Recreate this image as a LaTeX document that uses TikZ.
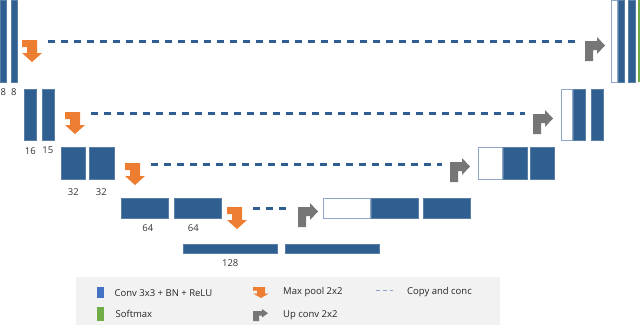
\documentclass[tikz,border=0pt]{standalone}
\usepackage{fontspec}
\setmainfont{Open Sans}
\usepackage{xcolor}
\usepackage{tikz}
\usetikzlibrary{positioning, calc}

\definecolor{convblue}{RGB}{47,95,145}
\definecolor{legblue}{RGB}{68,114,196}
\definecolor{copyedge}{RGB}{140,165,200}
\definecolor{poolorange}{RGB}{237,125,49}
\definecolor{upgray}{RGB}{118,118,118}
\definecolor{softgreen}{RGB}{112,173,71}
\definecolor{legendgray}{RGB}{242,242,242}

\begin{document}
\begin{tikzpicture}[x=1pt, y=-1pt,
	bar/.style={rectangle, fill=convblue, draw=convblue!80!white, line width=0.5pt, inner sep=0pt},
	copybar/.style={rectangle, fill=white, draw=copyedge, line width=0.8pt, inner sep=0pt},
	lbl/.style={font=\fontsize{9.5}{11}\selectfont, text=black!80, inner sep=1pt},
	legtext/.style={font=\fontsize{9.5}{11}\selectfont, text=black!85, inner sep=0pt, anchor=west},
	copyline/.style={draw=convblue, line width=2.3pt, dash pattern=on 7pt off 6pt},
	pics/poolarrow/.style={code={
		\fill[poolorange] (0,0) -- (15,0) -- (15,13) -- (20,13) -- (10,22) -- (0,13) -- (5,13) -- (5,7) -- (0,7) -- cycle;
		\coordinate (-out) at (26,1.5);
	}},
	pics/uparrow/.style={code={
		\fill[upgray] (0,4) -- (12,4) -- (12,0) -- (20,8.5) -- (12,17) -- (12,13) -- (8,13) -- (8,24) -- (0,24) -- cycle;
		\coordinate (-in) at (-8,4.5);
	}}]
	\useasboundingbox (0,0) rectangle (640,325);

	% encoder
	\node[bar, minimum width=6pt, minimum height=82pt, anchor=north west] (enc0a) at (0,0) {};
	\node[bar, minimum width=6pt, minimum height=82pt, right=4pt of enc0a] (enc0b) {};
	\node[bar, minimum width=12pt, minimum height=51pt, anchor=north west] (enc1a) at (24,89) {};
	\node[bar, minimum width=12pt, minimum height=51pt, right=5pt of enc1a] (enc1b) {};
	\node[bar, minimum width=24pt, minimum height=32pt, anchor=north west] (enc2a) at (61,147) {};
	\node[bar, minimum width=25pt, minimum height=32pt, right=3pt of enc2a] (enc2b) {};
	\node[bar, minimum width=47pt, minimum height=20pt, anchor=north west] (enc3a) at (121,198) {};
	\node[bar, minimum width=47pt, minimum height=20pt, right=5pt of enc3a] (enc3b) {};
	\node[bar, minimum width=94pt, minimum height=9pt, anchor=north west] (bota) at (183,244) {};
	\node[bar, minimum width=94pt, minimum height=9pt, right=7pt of bota] (botb) {};

	\node[lbl, below=4.5pt of enc0a] (n0a) {8};
	\node[lbl, below=4.5pt of enc0b] (n0b) {8};
	\node[lbl, below=5.5pt of enc1a] (n1a) {16};
	\node[lbl, below=5.5pt of enc1b] (n1b) {15};
	\node[lbl, below=8pt of enc2a] (n2a) {32};
	\node[lbl, below=8pt of enc2b] (n2b) {32};
	\node[lbl, below=4.5pt of enc3a, xshift=3pt] (n3a) {64};
	\node[lbl, below=4.5pt of enc3b, xshift=-4pt] (n3b) {64};
	\node[lbl, below=4.5pt of bota] (n4) {128};

	% decoder
	\node[copybar, minimum width=47pt, minimum height=20pt, anchor=north west] (dec3w) at (323,198) {};
	\node[bar, minimum width=47pt, minimum height=20pt, right=0pt of dec3w] (dec3a) {};
	\node[bar, minimum width=47pt, minimum height=20pt, right=5pt of dec3a] (dec3b) {};
	\node[copybar, minimum width=24pt, minimum height=32pt, anchor=north west] (dec2w) at (478,147) {};
	\node[bar, minimum width=24pt, minimum height=32pt, right=0pt of dec2w] (dec2a) {};
	\node[bar, minimum width=24pt, minimum height=32pt, right=3pt of dec2a] (dec2b) {};
	\node[copybar, minimum width=11pt, minimum height=51pt, anchor=north west] (dec1w) at (561,89) {};
	\node[bar, minimum width=12pt, minimum height=51pt, right=0pt of dec1w] (dec1a) {};
	\node[bar, minimum width=12pt, minimum height=51pt, right=6pt of dec1a] (dec1b) {};
	\node[copybar, minimum width=6pt, minimum height=82pt, anchor=north west] (dec0w) at (611,0) {};
	\node[bar, minimum width=6pt, minimum height=82pt, right=0pt of dec0w] (dec0a) {};
	\node[bar, minimum width=7pt, minimum height=82pt, right=4pt of dec0a] (dec0b) {};
	\node[rectangle, fill=softgreen, inner sep=0pt, minimum width=6pt, minimum height=82pt, right=2pt of dec0b] (out) {};

	% pooling, up conv and copies
	\pic (mp0) at (22,40) {poolarrow};
	\pic (mp1) at (65,112) {poolarrow};
	\pic (mp2) at (125,163) {poolarrow};
	\pic (mp3) at (227,207) {poolarrow};
	\pic (up3) at (298,203) {uparrow};
	\pic (up2) at (450,158) {uparrow};
	\pic (up1) at (533,110) {uparrow};
	\pic (up0) at (585,37) {uparrow};

	\foreach \l in {0,1,2,3}
		\draw[copyline] (mp\l-out) -- (mp\l-out -| up\l-in);

	% legend
	\node[fill=legendgray, inner sep=0pt, minimum width=424pt, minimum height=48pt, anchor=north west] (legend) at (76,277) {};
	\node[rectangle, fill=legblue, inner sep=0pt, minimum width=7pt, minimum height=11pt, anchor=north west] (lgconv) at (97,287) {};
	\node[legtext, right=10pt of lgconv] (lgconvt) {Conv 3x3 + BN + ReLU};
	\node[rectangle, fill=softgreen, inner sep=0pt, minimum width=7pt, minimum height=14pt, anchor=north west] (lgsoft) at (97,307) {};
	\node[legtext, right=11pt of lgsoft] (lgsoftt) {Softmax};
	\pic[xscale=0.8, yscale=0.5] (lgpool) at (253,287) {poolarrow};
	\node[legtext] (lgpoolt) at (283,292) {Max pool 2x2};
	\pic[xscale=0.75, yscale=0.5] (lgup) at (253,309) {uparrow};
	\node[legtext] (lgupt) at (283,315) {Up conv 2x2};
	\coordinate (lgc1) at (376,290);
	\coordinate (lgc2) at (393,290);
	\draw[copyedge, line width=1pt, dash pattern=on 4pt off 3pt] (lgc1) -- (lgc2);
	\node[legtext] (lgcopyt) at (407,292) {Copy and conc};
\end{tikzpicture}
\end{document}
